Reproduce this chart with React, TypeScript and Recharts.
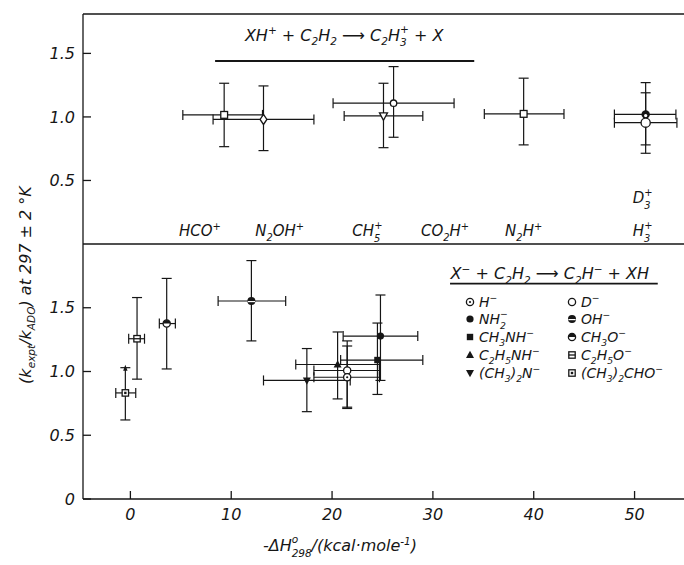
import { ScatterChart, Scatter, XAxis, YAxis, ErrorBar, ReferenceDot, ReferenceLine } from 'recharts';

const FONT = 'DejaVu Sans';
const INK = '#161616';

// upper panel: XH+ + C2H2 -> C2H3+ + X
const topIons = ['HCO+', 'N2OH+', 'CH5+', 'CO2H+', 'N2H+', 'D3+', 'H3+'];
const topMarker = ['sqOpen', 'diamond', 'triDownOpen', 'openSmall', 'sqOpen', 'halfDark', 'openBig'];
const topDH = [9.3, 13.2, 25.1, 26.1, 39.0, 51.1, 51.1];
const topDHLow = [5.2, 8.2, 21.2, 20.1, 35.1, 48.0, 48.0];
const topDHHigh = [13.1, 18.2, 29.0, 32.1, 43.0, 54.1, 54.2];
const topRatio = [1.016, 0.98, 1.008, 1.108, 1.024, 1.02, 0.955];
const topRatioLow = [0.766, 0.735, 0.758, 0.84, 0.78, 0.78, 0.714];
const topRatioHigh = [1.265, 1.244, 1.265, 1.396, 1.305, 1.27, 1.19];

// labels along the bottom of the upper panel
const topLabels = ['HCO^{+}', 'N_{2}OH^{+}', 'CH~{5|+}', 'CO_{2}H^{+}', 'N_{2}H^{+}', 'H~{3|+}', 'D~{3|+}'];
const topLabelX = [6.9, 14.8, 23.5, 31.2, 39.0, 50.8, 50.8];
const topLabelY = [0.06, 0.06, 0.06, 0.06, 0.06, 0.06, 0.32];

// lower panel: X- + C2H2 -> C2H- + XH
const botIons = ['(CH3)2CHO-', 'C2H5O-', 'CH3O-', 'OH-', '(CH3)2N-', 'C2H5NH-', 'D-', 'H-', 'CH3NH-', 'NH2-'];
const botMarker = ['sqDot', 'sqLine', 'halfTop', 'bar', 'triDown', 'triUp', 'open', 'dotted', 'sqFilled', 'filled'];
const botDH = [-0.5, 0.66, 3.6, 12.0, 17.5, 20.55, 21.5, 21.5, 24.5, 24.8];
const botDHLow = [-1.45, -0.17, 2.87, 8.7, 13.2, 16.4, 18.2, 18.2, 20.85, 21.1];
const botDHHigh = [0.53, 1.4, 4.46, 15.4, 21.8, 24.7, 24.7, 24.7, 29.0, 28.5];
const botRatio = [0.832, 1.257, 1.376, 1.553, 0.93, 1.055, 1.008, 0.955, 1.09, 1.278];
const botRatioLow = [0.62, 0.94, 1.02, 1.24, 0.685, 0.785, 0.71, 0.72, 0.82, 0.93];
const botRatioHigh = [1.03, 1.58, 1.73, 1.87, 1.18, 1.31, 1.24, 1.2, 1.38, 1.6];
// lower limit arrow on the (CH3)2CHO- point
const arrowX = [-0.5];
const arrowY = [1.03];

const legendNames = ['H^{−}', 'D^{−}', 'NH~{2|−}', 'OH^{−}', 'CH_{3}NH^{−}', 'CH_{3}O^{−}', 'C_{2}H_{5}NH^{−}', 'C_{2}H_{5}O^{−}', '(CH_{3})_{2}N^{−}', '(CH_{3})_{2}CHO^{−}'];
const legendMarker = ['dotted', 'open', 'filled', 'bar', 'sqFilled', 'halfTop', 'triUp', 'sqLine', 'triDown', 'sqDot'];

const xTicks = [0, 10, 20, 30, 40, 50];
const yTicks = [0, 0.5, 1.0, 1.5];

const toRows = (xs: number[], xl: number[], xh: number[], ys: number[], yl: number[], yh: number[], kinds: string[]) =>
  xs.map((x, i) => ({
    x,
    y: ys[i],
    ex: [x - xl[i], xh[i] - x],
    ey: [ys[i] - yl[i], yh[i] - ys[i]],
    kind: kinds[i],
  }));

const topData = toRows(topDH, topDHLow, topDHHigh, topRatio, topRatioLow, topRatioHigh, topMarker);
const botData = toRows(botDH, botDHLow, botDHHigh, botRatio, botRatioLow, botRatioHigh, botMarker);
const arrowData = arrowX.map((x, i) => ({ x, y: arrowY[i], kind: 'arrow' }));

function Marker({ kind, cx, cy }: any) {
  const w = 1.3;
  const r = 3.6;
  switch (kind) {
    case 'open':
      return <circle cx={cx} cy={cy} r={r} fill="#fff" stroke={INK} strokeWidth={w} />;
    case 'openSmall':
      return <circle cx={cx} cy={cy} r={3.2} fill="#fff" stroke={INK} strokeWidth={w} />;
    case 'openBig':
      return <circle cx={cx} cy={cy} r={4.6} fill="#fff" stroke={INK} strokeWidth={w} />;
    case 'dotted':
      return (
        <g>
          <circle cx={cx} cy={cy} r={r} fill="#fff" stroke={INK} strokeWidth={w} />
          <circle cx={cx} cy={cy} r={1.1} fill={INK} />
        </g>
      );
    case 'filled':
      return <circle cx={cx} cy={cy} r={r} fill={INK} />;
    case 'halfDark':
      return (
        <g>
          <circle cx={cx} cy={cy} r={4.2} fill={INK} />
          <circle cx={cx} cy={cy + 1.2} r={1.6} fill="#fff" />
        </g>
      );
    case 'bar':
      return (
        <g>
          <circle cx={cx} cy={cy} r={r + 0.4} fill={INK} />
          <line x1={cx - r} x2={cx + r} y1={cy + 0.6} y2={cy + 0.6} stroke="#fff" strokeWidth={1.2} />
        </g>
      );
    case 'halfTop':
      return (
        <g>
          <circle cx={cx} cy={cy} r={r} fill="#fff" stroke={INK} strokeWidth={w} />
          <path d={`M${cx - r},${cy} A${r},${r} 0 0 1 ${cx + r},${cy} Z`} fill={INK} />
        </g>
      );
    case 'sqFilled':
      return <rect x={cx - 3.2} y={cy - 3.2} width={6.4} height={6.4} fill={INK} />;
    case 'sqOpen':
      return <rect x={cx - 3.4} y={cy - 3.4} width={6.8} height={6.8} fill="#fff" stroke={INK} strokeWidth={w} />;
    case 'sqLine':
      return (
        <g>
          <rect x={cx - 3.2} y={cy - 3.2} width={6.4} height={6.4} fill="#fff" stroke={INK} strokeWidth={w} />
          <line x1={cx - 3.2} x2={cx + 3.2} y1={cy} y2={cy} stroke={INK} strokeWidth={w} />
        </g>
      );
    case 'sqDot':
      return (
        <g>
          <rect x={cx - 3.2} y={cy - 3.2} width={6.4} height={6.4} fill="#fff" stroke={INK} strokeWidth={w} />
          <rect x={cx - 1.2} y={cy - 1.2} width={2.4} height={2.4} fill={INK} />
        </g>
      );
    case 'triUp':
      return <path d={`M${cx},${cy - 4.2} L${cx + 4},${cy + 3} L${cx - 4},${cy + 3} Z`} fill={INK} />;
    case 'triDown':
      return <path d={`M${cx},${cy + 4.2} L${cx + 4},${cy - 3} L${cx - 4},${cy - 3} Z`} fill={INK} />;
    case 'triDownOpen':
      return <path d={`M${cx},${cy + 4.4} L${cx + 4},${cy - 3} L${cx - 4},${cy - 3} Z`} fill="#fff" stroke={INK} strokeWidth={w} />;
    case 'diamond':
      return <path d={`M${cx},${cy - 5} L${cx + 3.4},${cy} L${cx},${cy + 5} L${cx - 3.4},${cy} Z`} fill="#fff" stroke={INK} strokeWidth={w} />;
    case 'arrow':
      return <path d={`M${cx},${cy - 3} L${cx + 2.2},${cy + 3} L${cx - 2.2},${cy + 3} Z`} fill={INK} />;
    default:
      return <circle cx={cx} cy={cy} r={r} fill={INK} />;
  }
}

// tiny markup: _{sub} ^{sup} ~{sub|sup} (stacked)
function Rich({ x, y, s, size = 15, anchor = 'start', rotate }: any) {
  const parts: { t: string; k: number; dx?: number }[] = [];
  const cw = size * 0.66 * 0.63; // approx. width of a small glyph
  let buf = '';
  let pend = 0;
  let i = 0;
  const push = (t: string, k: number, dx?: number) => {
    const d = (dx || 0) + pend;
    pend = 0;
    parts.push({ t, k, dx: d || undefined });
  };
  while (i < s.length) {
    const c = s[i];
    if ((c === '_' || c === '^' || c === '~') && s[i + 1] === '{') {
      if (buf) push(buf, 0);
      buf = '';
      const end = s.indexOf('}', i);
      const body = s.slice(i + 2, end);
      if (c === '~') {
        const [a, b] = body.split('|');
        push(a, 2);
        push(b, -2, -a.length * cw);
        pend = Math.max(0, (a.length - b.length) * cw);
      } else {
        push(body, c === '_' ? 1 : -1);
      }
      i = end + 1;
    } else {
      buf += c;
      i++;
    }
  }
  if (buf) push(buf, 0);
  let cur = 0;
  const offs: Record<number, number> = { 0: 0, 1: 0.28, [-1]: -0.4, 2: 0.36, [-2]: -0.5 };
  return (
    <text
      x={x}
      y={y}
      textAnchor={anchor}
      fontSize={size}
      fontFamily={FONT}
      fontStyle="italic"
      fill={INK}
      transform={rotate ? `rotate(${rotate} ${x} ${y})` : undefined}
    >
      {parts.map((p, j) => {
        const off = offs[p.k] * size;
        const dy = off - cur;
        cur = off;
        return (
          <tspan key={j} dy={dy} dx={p.dx} fontSize={p.k ? size * 0.66 : size}>
            {p.t}
          </tspan>
        );
      })}
    </text>
  );
}

const tickStyle = { fontSize: 16, fontStyle: 'italic', fontFamily: FONT, fill: INK };
const fmt = (v: number) => (v === 0 ? '0' : v.toFixed(1));
const axisStroke = { stroke: INK, strokeWidth: 1.3 };

export default function App() {
  return (
    <div style={{ position: 'absolute', left: 0, top: 0, width: 684, height: 565, overflow: 'hidden', background: '#fff' }}>
      <div style={{ position: 'absolute', left: 0, top: 0 }}>
        <ScatterChart width={700} height={250} margin={{ top: 4, right: 3, bottom: 6, left: 43 }}>
          <XAxis
            xAxisId="t"
            type="number"
            dataKey="x"
            orientation="top"
            domain={[-4.7, 55.2]}
            allowDataOverflow
            ticks={xTicks}
            height={10}
            tick={false}
            tickSize={-8}
            axisLine={axisStroke}
            tickLine={axisStroke}
          />
          <YAxis
            yAxisId="l"
            type="number"
            dataKey="y"
            domain={[0, 1.81]}
            allowDataOverflow
            ticks={yTicks}
            width={40}
            tickSize={-8}
            tickMargin={16}
            tickFormatter={fmt}
            tick={tickStyle}
            axisLine={axisStroke}
            tickLine={axisStroke}
          />
          <YAxis
            yAxisId="r"
            orientation="right"
            type="number"
            domain={[0, 1.81]}
            ticks={[0.5, 1.0, 1.5]}
            width={10}
            tickSize={-8}
            tick={false}
            axisLine={axisStroke}
            tickLine={axisStroke}
          />
          <Scatter
            xAxisId="t"
            yAxisId="l"
            data={topData}
            isAnimationActive={false}
            shape={(p: any) => <Marker kind={p.payload.kind} cx={p.cx} cy={p.cy} />}
          >
            <ErrorBar dataKey="ex" direction="x" width={5} stroke={INK} strokeWidth={1.2} isAnimationActive={false} />
            <ErrorBar dataKey="ey" direction="y" width={5} stroke={INK} strokeWidth={1.2} isAnimationActive={false} />
          </Scatter>
          <ReferenceLine
            xAxisId="t"
            yAxisId="l"
            segment={[{ x: 8.4, y: 1.44 }, { x: 34.1, y: 1.44 }]}
            stroke={INK}
            strokeWidth={1.8}
          />
          <ReferenceDot
            xAxisId="t"
            yAxisId="l"
            x={21.2}
            y={1.6}
            r={0}
            shape={(p: any) => <Rich x={p.cx} y={p.cy} s="XH^{+} + C_{2}H_{2} ⟶ C_{2}H~{3|+} + X" size={16} anchor="middle" />}
          />
          {topLabels.map((t, i) => (
            <ReferenceDot
              key={t}
              xAxisId="t"
              yAxisId="l"
              x={topLabelX[i]}
              y={topLabelY[i]}
              r={0}
              shape={(p: any) => <Rich x={p.cx} y={p.cy} s={t} size={15} anchor="middle" />}
            />
          ))}
        </ScatterChart>
      </div>

      <div style={{ position: 'absolute', left: 0, top: 0 }}>
        <ScatterChart width={700} height={565} margin={{ top: 234, right: 3, bottom: 36, left: 43 }}>
          <XAxis
            xAxisId="t"
            type="number"
            dataKey="x"
            orientation="top"
            domain={[-4.7, 55.2]}
            allowDataOverflow
            height={10}
            tick={false}
            tickLine={false}
            axisLine={axisStroke}
          />
          <XAxis
            xAxisId="b"
            type="number"
            dataKey="x"
            domain={[-4.7, 55.2]}
            allowDataOverflow
            ticks={xTicks}
            height={30}
            tickSize={-8}
            tickMargin={18}
            tick={tickStyle}
            axisLine={axisStroke}
            tickLine={axisStroke}
          />
          <YAxis
            yAxisId="l"
            type="number"
            dataKey="y"
            domain={[0, 2.0]}
            allowDataOverflow
            ticks={yTicks}
            width={40}
            tickSize={-8}
            tickMargin={16}
            tickFormatter={fmt}
            tick={tickStyle}
            axisLine={axisStroke}
            tickLine={axisStroke}
          />
          <YAxis
            yAxisId="r"
            orientation="right"
            type="number"
            domain={[0, 2.0]}
            ticks={[0.5, 1.0, 1.5]}
            width={10}
            tickSize={-8}
            tick={false}
            axisLine={axisStroke}
            tickLine={axisStroke}
          />
          <Scatter
            xAxisId="b"
            yAxisId="l"
            data={botData}
            isAnimationActive={false}
            shape={(p: any) => <Marker kind={p.payload.kind} cx={p.cx} cy={p.cy} />}
          >
            <ErrorBar dataKey="ex" direction="x" width={5} stroke={INK} strokeWidth={1.2} isAnimationActive={false} />
            <ErrorBar dataKey="ey" direction="y" width={5} stroke={INK} strokeWidth={1.2} isAnimationActive={false} />
          </Scatter>
          <Scatter
            xAxisId="b"
            yAxisId="l"
            data={arrowData}
            isAnimationActive={false}
            shape={(p: any) => <Marker kind="arrow" cx={p.cx} cy={p.cy} />}
          />
          <ReferenceLine
            xAxisId="b"
            yAxisId="l"
            segment={[{ x: 31.7, y: 1.69 }, { x: 52.3, y: 1.69 }]}
            stroke={INK}
            strokeWidth={1.8}
          />
          <ReferenceDot
            xAxisId="b"
            yAxisId="l"
            x={41.6}
            y={1.725}
            r={0}
            shape={(p: any) => <Rich x={p.cx} y={p.cy} s="X^{−} + C_{2}H_{2} ⟶ C_{2}H^{−} + XH" size={16} anchor="middle" />}
          />
        </ScatterChart>
      </div>

      <svg width={684} height={565} style={{ position: 'absolute', left: 0, top: 0, pointerEvents: 'none' }}>
        {legendNames.map((n, i) => {
          const col = i % 2;
          const row = Math.floor(i / 2);
          const lx = col === 0 ? 470 : 572;
          const ly = [302, 319, 337, 355, 373][row];
          return (
            <g key={n}>
              <Marker kind={legendMarker[i]} cx={lx} cy={ly} />
              <Rich x={lx + 9} y={ly + 5} s={n} size={14} />
            </g>
          );
        })}
        <Rich x={340} y={551} s="-ΔH~{298|o}/(kcal·mole^{-1})" size={16} anchor="middle" />
        <Rich x={31} y={285} s="(k_{expt}/k_{ADO}) at 297 ± 2 °K" size={16} anchor="middle" rotate={-90} />
      </svg>
    </div>
  );
}
